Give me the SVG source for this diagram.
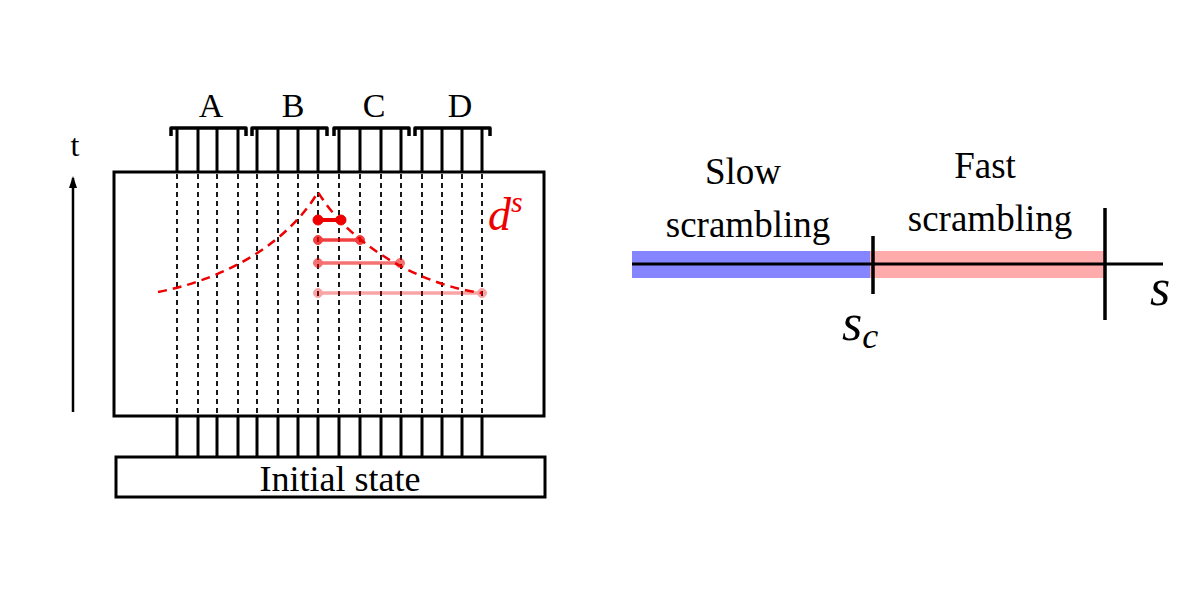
<svg xmlns="http://www.w3.org/2000/svg" width="1200" height="600" viewBox="0 0 1200 600">
<style>
.t{font-family:"Liberation Serif",serif;fill:#000}
.w{stroke:#000;stroke-width:3}
.d{stroke:#000;stroke-width:1.8;stroke-dasharray:5,4}
.b{fill:none;stroke:#000;stroke-width:3.5;stroke-linejoin:round}
</style>
<defs><marker id="ah" markerWidth="12" markerHeight="8" refX="10" refY="4" orient="auto" markerUnits="userSpaceOnUse"><path d="M0,0 L12,4 L0,8 Z" fill="#000"/></marker></defs>
<rect width="1200" height="600" fill="#fff"/>
<g id="circuit">
<rect x="114" y="172" width="430" height="244" fill="none" stroke="#000" stroke-width="3"/>
<rect x="116" y="457" width="429" height="40" fill="none" stroke="#000" stroke-width="3"/>
<text class="t" x="340" y="491" font-size="36" text-anchor="middle">Initial state</text>
<g id="wires">
<path class="w" d="M177,128V172M198,128V172M217,128V172M238,128V172M257,128V172M278,128V172M298,128V172M318,128V172M339,128V172M360,128V172M381,128V172M401,128V172M422,128V172M442,128V172M462,128V172M482,128V172"/>
<path class="w" d="M177,416V457M198,416V457M217,416V457M238,416V457M257,416V457M278,416V457M298,416V457M318,416V457M339,416V457M360,416V457M381,416V457M401,416V457M422,416V457M442,416V457M462,416V457M482,416V457"/>
<path class="d" d="M177,174V414M198,174V414M217,174V414M238,174V414M257,174V414M278,174V414M298,174V414M318,174V414M339,174V414M360,174V414M381,174V414M401,174V414M422,174V414M442,174V414M462,174V414M482,174V414"/>
</g>
<path class="b" d="M171,136V128H246V136M252,136V128H327V136M334,136V128H409V136M415,136V128H490V136"/>
<text class="t" x="211" y="117" font-size="34" text-anchor="middle">A</text>
<text class="t" x="293" y="117" font-size="34" text-anchor="middle">B</text>
<text class="t" x="374" y="117" font-size="34" text-anchor="middle">C</text>
<text class="t" x="460" y="117" font-size="34" text-anchor="middle">D</text>
</g>
<g id="cone">
<path d="M158,292 C230,278 290,240 318,192 C350,245 420,285 482,293" fill="none" stroke="#e00" stroke-width="2.5" stroke-dasharray="9,6"/>
<g stroke="#e00" fill="#e00">
<path d="M318,220H341" stroke-width="4"/><circle cx="318" cy="220" r="5"/><circle cx="341" cy="220" r="5"/>
<g opacity="0.75"><path d="M318,240H360" stroke-width="3.5"/><circle cx="318" cy="240" r="4.5"/><circle cx="360" cy="240" r="4.5"/></g>
<g opacity="0.55"><path d="M318,263H400" stroke-width="3.5"/><circle cx="318" cy="263" r="4.5"/><circle cx="400" cy="263" r="4.5"/></g>
<g opacity="0.35"><path d="M318,293H482" stroke-width="3.5"/><circle cx="318" cy="293" r="4.5"/><circle cx="482" cy="293" r="4.5"/></g>
</g>
<text x="488" y="230" font-size="46" font-style="italic" fill="#e00" font-family="Liberation Serif,serif">d<tspan font-size="30" dy="-18">s</tspan></text>
</g>
<g id="time">
<path d="M73,412V178" stroke="#000" stroke-width="2.5" marker-end="url(#ah)"/>
<text class="t" x="75" y="156" font-size="32" text-anchor="middle">t</text>
</g>
<g id="scale">
<rect x="632" y="251" width="238" height="27" fill="#66f" opacity="0.8"/>
<rect x="870" y="251" width="236" height="27" fill="#f88" opacity="0.7"/>
<path d="M632,264H1163" stroke="#000" stroke-width="3"/>
<path d="M873,236V294M1105,208V320" stroke="#000" stroke-width="3.5"/>
<text class="t" x="743" y="184" font-size="37" text-anchor="middle">Slow</text>
<text class="t" x="748" y="237" font-size="37" text-anchor="middle">scrambling</text>
<text class="t" x="985" y="178" font-size="37" text-anchor="middle">Fast</text>
<text class="t" x="990" y="231" font-size="37" text-anchor="middle">scrambling</text>
<text x="1160" y="305" font-size="52" font-style="italic" font-family="Liberation Serif,serif" text-anchor="middle">s</text>
<text x="860" y="340" font-size="52" font-style="italic" font-family="Liberation Serif,serif" text-anchor="middle">s<tspan font-size="36" dy="8">c</tspan></text>
</g>
</svg>
